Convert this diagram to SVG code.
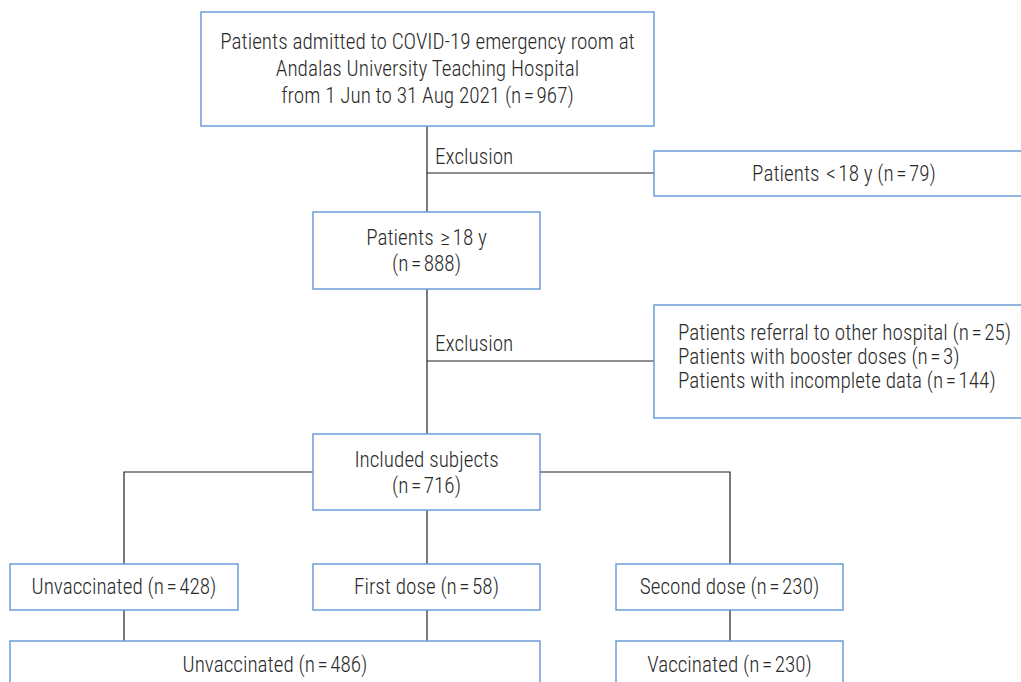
<svg xmlns="http://www.w3.org/2000/svg" width="1021" height="682" viewBox="0 0 1021 682">
<style>
.box{fill:#fff;stroke:#6a9fd8;stroke-width:1.5}
.t{font-family:"Roboto Condensed","Liberation Sans Narrow","Liberation Sans",sans-serif;font-size:21.2px;font-weight:300;fill:#2a2a2a}
.c{text-anchor:middle}
.e{letter-spacing:2.5px}
.ln{stroke:#222;stroke-width:1.2;fill:none}
</style>
<rect x="0" y="0" width="1021" height="682" fill="#fff"/>
<g id="connectors">
<path class="ln" d="M427 126V212M427 173H654M427 289V434M427 361H654M313 472H124V564M540 472H730V564M427 510V564M124 610V641M427 610V641M730 610V641"/>
</g>
<g id="n-top"><rect class="box" x="201" y="12" width="453" height="114"/>
<text class="t c" x="427.5" y="49">Patients admitted to COVID-19 emergency room at</text>
<text class="t c" x="427.5" y="76">Andalas University Teaching Hospital</text>
<text class="t c" x="427.5" y="103">from 1 Jun to 31 Aug 2021 (n<tspan class="e" dx="2.5">=</tspan>967)</text></g>
<g id="l-excl1"><text class="t" x="435" y="164">Exclusion</text></g>
<g id="n-under18"><rect class="box" x="654" y="151" width="380" height="45"/>
<text class="t c" x="844" y="181">Patients <tspan class="e" dx="2">&lt;</tspan>18 y (n<tspan class="e" dx="2.5">=</tspan>79)</text></g>
<g id="n-over18"><rect class="box" x="313" y="212" width="227" height="77"/>
<text class="t c" x="426.5" y="245">Patients <tspan class="e" dx="2">≥</tspan>18 y</text>
<text class="t c" x="426.5" y="271">(n<tspan class="e" dx="2.5">=</tspan>888)</text></g>
<g id="l-excl2"><text class="t" x="435" y="351">Exclusion</text></g>
<g id="n-excl2"><rect class="box" x="654" y="305" width="380" height="113"/>
<text class="t" x="678" y="340">Patients referral to other hospital (n<tspan class="e" dx="2.5">=</tspan>25)</text>
<text class="t" x="678" y="364">Patients with booster doses (n<tspan class="e" dx="2.5">=</tspan>3)</text>
<text class="t" x="678" y="388">Patients with incomplete data (n<tspan class="e" dx="2.5">=</tspan>144)</text></g>
<g id="n-included"><rect class="box" x="313" y="434" width="227" height="76"/>
<text class="t c" x="426.5" y="467">Included subjects</text>
<text class="t c" x="426.5" y="493">(n<tspan class="e" dx="2.5">=</tspan>716)</text></g>
<g id="n-unvac428"><rect class="box" x="10" y="564" width="228" height="46"/>
<text class="t c" x="124" y="594">Unvaccinated (n<tspan class="e" dx="2.5">=</tspan>428)</text></g>
<g id="n-first"><rect class="box" x="313" y="564" width="227" height="46"/>
<text class="t c" x="426.5" y="594">First dose (n<tspan class="e" dx="2.5">=</tspan>58)</text></g>
<g id="n-second"><rect class="box" x="616" y="564" width="227" height="46"/>
<text class="t c" x="729.5" y="594">Second dose (n<tspan class="e" dx="2.5">=</tspan>230)</text></g>
<g id="n-unvac486"><rect class="box" x="10" y="641" width="530" height="60"/>
<text class="t c" x="275" y="672">Unvaccinated (n<tspan class="e" dx="2.5">=</tspan>486)</text></g>
<g id="n-vac"><rect class="box" x="616" y="641" width="227" height="60"/>
<text class="t c" x="729.5" y="672">Vaccinated (n<tspan class="e" dx="2.5">=</tspan>230)</text></g>
</svg>
